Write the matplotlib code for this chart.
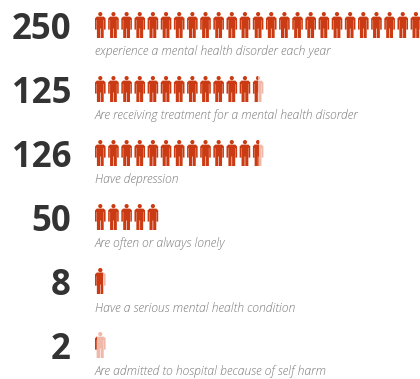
import matplotlib
matplotlib.use("Agg")
import matplotlib.pyplot as plt
from matplotlib.patches import PathPatch, Rectangle
from matplotlib.path import Path
import numpy as np

# Figures per row; one figure stands for ten people
values = [250, 125, 126, 50, 8, 2]
labels = [
    "experience a mental health disorder each year",
    "Are receiving treatment for a mental health disorder",
    "Have depression",
    "Are often or always lonely",
    "Have a serious mental health condition",
    "Are admitted to hospital because of self harm",
]
people_per_icon = 10

SOLID = "#CB3B13"
PALE = "#F0B8A8"
NUMBER_COLOR = "#333333"
LABEL_COLOR = "#7A7A7A"

W, H = 420, 379
X0, PITCH_X = 95.0, 13.15      # left edge of first figure, spacing between figures
Y0, PITCH_Y = 12.0, 64.0       # top of first row, spacing between rows
ICON_W, ICON_H = 10.6, 26.0

fig = plt.figure(figsize=(W / 100, H / 100), dpi=100)
ax = fig.add_axes([0, 0, 1, 1])
ax.set_xlim(-X0 / PITCH_X, (W - X0) / PITCH_X)
ax.set_ylim((H - Y0) / PITCH_Y, -Y0 / PITCH_Y)
ax.axis("off")


def person_path():
    """Standing figure in a box of ICON_W x ICON_H, scaled to axis units."""
    body = np.array([
        (1.8, 4.6), (8.8, 4.6), (10.6, 6.4), (10.6, 17.6), (9.0, 17.6),
        (9.0, 8.0), (8.7, 8.0), (8.7, 26.0), (5.6, 26.0), (5.6, 16.5),
        (5.0, 16.5), (5.0, 26.0), (1.9, 26.0), (1.9, 8.0), (1.6, 8.0),
        (1.6, 17.6), (0.0, 17.6), (0.0, 6.4), (1.8, 4.6),
    ])
    body_codes = [Path.MOVETO] + [Path.LINETO] * (len(body) - 2) + [Path.CLOSEPOLY]
    t = np.linspace(0, 2 * np.pi, 25)
    head = np.column_stack([5.3 + 2.1 * np.cos(t), 2.1 + 2.1 * np.sin(t)])
    head_codes = [Path.MOVETO] + [Path.LINETO] * (len(head) - 2) + [Path.CLOSEPOLY]
    verts = np.vstack([body, head]) / [PITCH_X, PITCH_Y]
    return verts, body_codes + head_codes


verts, codes = person_path()
icon_w = ICON_W / PITCH_X
icon_h = ICON_H / PITCH_Y

for row, (value, label) in enumerate(zip(values, labels)):
    count = value / people_per_icon
    for i in range(int(np.ceil(count))):
        fill = min(count - i, 1.0)
        path = Path(verts + [i, row], codes)
        if fill < 1.0:
            ax.add_patch(PathPatch(path, fc=PALE, ec="none", snap=False))
        solid = PathPatch(path, fc=SOLID, ec="none", snap=False)
        ax.add_patch(solid)
        if fill < 1.0:
            clip = Rectangle((i, row), icon_w * fill, icon_h,
                             transform=ax.transData)
            solid.set_clip_path(clip)

    ax.text(-24 / PITCH_X, row + 13.5 / PITCH_Y, str(value), ha="right", va="center_baseline",
            family="Open Sans", weight="bold", fontsize=25, color=NUMBER_COLOR)
    ax.text(0, row + 40 / PITCH_Y, label, ha="left", va="center",
            family="Open Sans", style="italic", weight="light", fontsize=8.7,
            color=LABEL_COLOR)

fig.savefig("out.png", dpi=100, facecolor="white")
